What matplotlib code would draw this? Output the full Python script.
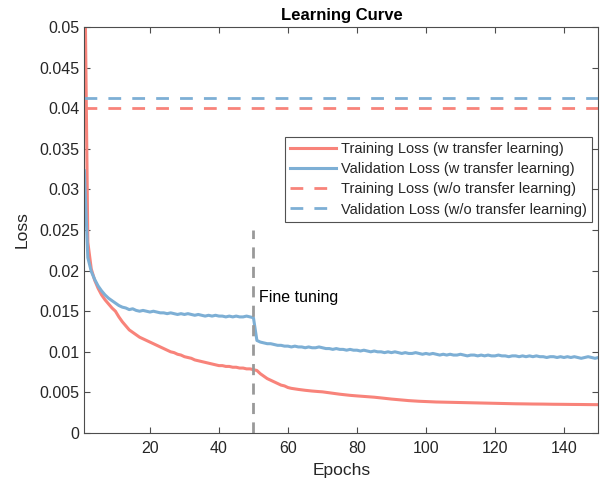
import matplotlib
matplotlib.use("Agg")
import matplotlib.pyplot as plt

# ---- data ----
epochs = list(range(1, 151))

train_loss_tl = [
    0.0620, 0.0235, 0.0202, 0.0188, 0.0178, 0.0170, 0.0164, 0.0159, 0.0154, 0.0150,
    0.0143, 0.0137, 0.0132, 0.0127, 0.0124, 0.0121, 0.0118, 0.0116, 0.0114, 0.0112,
    0.0110, 0.0108, 0.0106, 0.0104, 0.0102, 0.0100, 0.0099, 0.0097, 0.0096, 0.0094,
    0.0093, 0.0092, 0.0090, 0.0089, 0.0088, 0.0087, 0.0086, 0.0085, 0.0084, 0.0083,
    0.0083, 0.0082, 0.0082, 0.0081, 0.0081, 0.0080, 0.0080, 0.0079, 0.0079, 0.0078,
    0.0077, 0.0073, 0.0070, 0.0067, 0.0065, 0.0063, 0.0061, 0.0059, 0.0058, 0.0056,
    0.00550, 0.00543, 0.00537, 0.00531, 0.00526, 0.00521, 0.00517, 0.00513, 0.00510, 0.00507,
    0.00501, 0.00495, 0.00489, 0.00483, 0.00478, 0.00473, 0.00468, 0.00464, 0.00460, 0.00457,
    0.00454, 0.00451, 0.00448, 0.00445, 0.00441, 0.00437, 0.00432, 0.00427, 0.00422, 0.00418,
    0.00414, 0.00410, 0.00406, 0.00402, 0.00399, 0.00396, 0.00393, 0.00391, 0.00389, 0.00387,
    0.00385, 0.00384, 0.00382, 0.00381, 0.00380, 0.00379, 0.00378, 0.00377, 0.00376, 0.00375,
    0.00374, 0.00373, 0.00372, 0.00371, 0.00370, 0.00369, 0.00368, 0.00367, 0.00366, 0.00365,
    0.00364, 0.00363, 0.00362, 0.00362, 0.00361, 0.00360, 0.00360, 0.00359, 0.00358, 0.00358,
    0.00357, 0.00357, 0.00356, 0.00356, 0.00355, 0.00355, 0.00354, 0.00354, 0.00353, 0.00353,
    0.00352, 0.00352, 0.00352, 0.00351, 0.00351, 0.00350, 0.00350, 0.00350, 0.00349, 0.00349,
]

val_loss_tl = [
    0.0323, 0.0216, 0.0199, 0.0189, 0.0181, 0.0175, 0.0170, 0.0166, 0.0163, 0.0160,
    0.0157, 0.0155, 0.0154, 0.0152, 0.0153, 0.0151, 0.0150, 0.0151, 0.0150, 0.0149,
    0.0150, 0.0149, 0.0148, 0.0148, 0.0147, 0.0148, 0.0147, 0.0146, 0.0147, 0.0146,
    0.0147, 0.0146, 0.0145, 0.0146, 0.0145, 0.0144, 0.0145, 0.0144, 0.0145, 0.0144,
    0.0144, 0.0143, 0.0144, 0.0143, 0.0144, 0.0143, 0.0143, 0.0144, 0.0143, 0.0142,
    0.0114, 0.0112, 0.0111, 0.0110, 0.0110, 0.0109, 0.0108, 0.0108, 0.0107, 0.0107,
    0.0106, 0.0107, 0.0106, 0.0106, 0.0105, 0.0106, 0.0105, 0.0105, 0.0106, 0.0105,
    0.0104, 0.0104, 0.0103, 0.0104, 0.0103, 0.0103, 0.0102, 0.0103, 0.0102, 0.0102,
    0.0101, 0.0102, 0.0101, 0.0100, 0.0101, 0.0100, 0.0100, 0.0099, 0.0100, 0.0099,
    0.0100, 0.0099, 0.0098, 0.0099, 0.0098, 0.0098, 0.0099, 0.0098, 0.0097, 0.0098,
    0.0097, 0.0098, 0.0097, 0.0096, 0.0097, 0.0096, 0.0097, 0.0096, 0.0096, 0.0097,
    0.0096, 0.0095, 0.0096, 0.0096, 0.0095, 0.0096, 0.0095, 0.0096, 0.0095, 0.0095,
    0.0096, 0.0095, 0.0095, 0.0094, 0.0095, 0.0095, 0.0094, 0.0095, 0.0094, 0.0095,
    0.0094, 0.0095, 0.0094, 0.0094, 0.0093, 0.0094, 0.0094, 0.0093, 0.0094, 0.0093,
    0.0094, 0.0093, 0.0094, 0.0093, 0.0092, 0.0093, 0.0094, 0.0093, 0.0092, 0.0093,
]

train_loss_no_tl = 0.0400
val_loss_no_tl = 0.0413

fine_tune_epoch = 50
fine_tune_top = 0.025

x_ticks = [20, 40, 60, 80, 100, 120, 140]
y_ticks = [0, 0.005, 0.01, 0.015, 0.02, 0.025, 0.03, 0.035, 0.04, 0.045, 0.05]
y_tick_labels = ["0", "0.005", "0.01", "0.015", "0.02", "0.025", "0.03",
                 "0.035", "0.04", "0.045", "0.05"]

RED = "#F8837A"
BLUE = "#7DAFD5"
AX_COLOR = "#4d4d4d"
TXT_COLOR = "#262626"

plt.rcParams["font.family"] = ["Liberation Sans", "DejaVu Sans"]

fig = plt.figure(figsize=(6.01, 4.83), dpi=100)
ax = fig.add_axes([0.1404, 0.1035, 0.8554, 0.8405])

ax.plot(epochs, train_loss_tl, color=RED, lw=2.2, label="Training Loss (w transfer learning)")
ax.plot(epochs, val_loss_tl, color=BLUE, lw=2.2, label="Validation Loss (w transfer learning)")
ax.axhline(train_loss_no_tl, color=RED, lw=2.0, dashes=(4.6, 4.0),
           label="Training Loss (w/o transfer learning)")
ax.axhline(val_loss_no_tl, color=BLUE, lw=2.0, dashes=(4.6, 4.0),
           label="Validation Loss (w/o transfer learning)")

ax.plot([fine_tune_epoch, fine_tune_epoch], [0, fine_tune_top], color="#999999",
        lw=2.0, dashes=(4.0, 3.0))
ax.text(fine_tune_epoch + 1.6, 0.0167, "Fine tuning", fontsize=11.5, color="black",
        ha="left", va="center")

ax.set_xlim(1, 150)
ax.set_ylim(0, 0.05)
ax.set_xticks(x_ticks)
ax.set_yticks(y_ticks)
ax.set_yticklabels(y_tick_labels)
ax.tick_params(direction="in", length=4, width=0.8, colors=AX_COLOR,
               labelcolor=TXT_COLOR, labelsize=11.5, top=True, right=True)
ax.tick_params(axis="x", pad=6)
for sp in ax.spines.values():
    sp.set_color(AX_COLOR)
    sp.set_linewidth(0.8)

ax.set_xlabel("Epochs", fontsize=12.5, color=TXT_COLOR, labelpad=5)
ax.set_ylabel("Loss", fontsize=12.5, color=TXT_COLOR, labelpad=7)
ax.set_title("Learning Curve", fontsize=12, fontweight="bold", pad=5)

leg = ax.legend(loc="upper right", bbox_to_anchor=(0.987, 0.729), borderaxespad=0,
                fontsize=10.5, frameon=True, fancybox=False, handlelength=3.2,
                handletextpad=0.3, borderpad=0.35, labelspacing=0.42)
leg.get_frame().set_edgecolor("#262626")
leg.get_frame().set_linewidth(0.8)
for t in leg.get_texts():
    t.set_color(TXT_COLOR)

fig.savefig("out.png", dpi=100)
